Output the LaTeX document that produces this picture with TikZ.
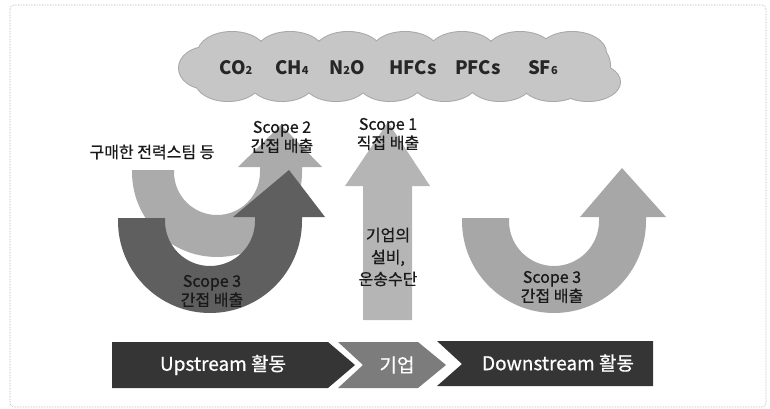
\documentclass[tikz,border=0pt]{standalone}
\usepackage{fontspec}
\setmainfont{Noto Sans CJK KR}
\newfontfamily\medfont[FakeBold=0.7]{Noto Sans CJK KR}
\begin{document}
\begin{tikzpicture}[x=1pt,y=-1pt,
  lbl/.style={font=\medfont\fontsize{16}{19}\selectfont, align=center, inner sep=0pt, text=black!90},
  gas/.style={font=\bfseries\fontsize{18.5}{20}\selectfont, inner sep=0pt, text=black!85},
  bartxt/.style={font=\medfont\fontsize{19}{21}\selectfont, inner sep=0pt, text=white},
  puff/.style={fill=cloudfill},
  puffline/.style={draw=cloudline, line width=2pt}]
\definecolor{cloudfill}{HTML}{C6C6C6}
\definecolor{cloudline}{HTML}{A8A8A8}
\definecolor{lightU}{HTML}{ABABAB}
\definecolor{darkU}{HTML}{5F5F5F}
\definecolor{midA}{HTML}{B5B5B5}
\definecolor{rightU}{HTML}{A7A7A7}
\definecolor{barDark}{HTML}{353535}
\definecolor{barMid}{HTML}{7C7C7C}
\useasboundingbox (0,0) rectangle (770,409);
% frame
\draw[black!35, densely dotted, line width=0.6pt, rounded corners=4pt] (10,5) rectangle (766,407);
% cloud: outline then fill
\foreach \a in {puffline,puff}{
  \path[\a] (207,68) ellipse [x radius=28, y radius=21];
  \foreach \cx in {232,290,348,405,462,520,572} \path[\a] (\cx,53) ellipse [x radius=34, y radius=21];
  \foreach \cx in {228,282,336,390,445,500,553,588} \path[\a] (\cx,82) ellipse [x radius=32, y radius=19];
  \path[\a] (596,66) ellipse [x radius=14, y radius=19];
}
\fill[cloudfill] (212,52) rectangle (596,84);
% gases
\node[gas] (co2) at (236,68) {CO{\fontsize{11}{11}\selectfont 2}};
\node[gas] (ch4) at (292,68) {CH{\fontsize{11}{11}\selectfont 4}};
\node[gas] (n2o) at (347,68) {N{\fontsize{11}{11}\selectfont 2}O};
\node[gas] (hfc) at (413,68) {HFCs};
\node[gas] (pfc) at (478,68) {PFCs};
\node[gas] (sf6) at (543,68) {SF{\fontsize{11}{11}\selectfont 6}};
% light U (scope 2)
\fill[lightU] (132,170) -- (132,172) arc[start angle=180, end angle=0, radius=85]
  -- (302,167) -- (322,167) -- (281,125) -- (238,167) -- (260,167) -- (260,172)
  arc[start angle=0, end angle=180, radius=43] -- (174,170) -- cycle;
% dark U (scope 3 left)
\fill[darkU] (118,218) -- (118,221) arc[start angle=180, end angle=0, radius=92]
  -- (302,217) -- (325,217) -- (289,170) -- (233,217) -- (255,217) -- (255,221)
  arc[start angle=0, end angle=180, radius=45] -- (165,218) -- cycle;
% middle straight arrow (scope 1)
\fill[midA] (363,320) -- (363,186) -- (345,186) -- (388,122) -- (430,186) -- (412,186) -- (412,320) -- cycle;
% right U (scope 3 right)
\fill[rightU] (462,218) -- (462,221) arc[start angle=180, end angle=0, radius=92]
  -- (646,217) -- (666,217) -- (622,168) -- (580,217) -- (599,217) -- (599,221)
  arc[start angle=0, end angle=180, radius=45] -- (509,218) -- cycle;
% labels
\node[lbl] (buy) at (152,152) {구매한 전력스팀 등};
\node[lbl] (s2) at (282,137) {Scope 2\\간접 배출};
\node[lbl] (s1) at (388,134) {Scope 1\\직접 배출};
\node[lbl, font=\medfont\fontsize{16}{22}\selectfont] (fac) at (388,257) {기업의\\설비,\\운송수단};
\node[lbl] (s3l) at (212,291) {Scope 3\\간접 배출};
\node[lbl] (s3r) at (552,287) {Scope 3\\간접 배출};
% bottom bar
\fill[barDark] (112,342) -- (328,342) -- (355,365) -- (328,388) -- (112,388) -- cycle;
\fill[barMid] (338,342) -- (418,342) -- (446,365) -- (418,388) -- (338,388) -- (363,365) -- cycle;
\fill[barDark] (437,341) -- (653,341) -- (653,386) -- (437,386) -- (462,364) -- cycle;
\node[bartxt] (up) at (223,365) {Upstream 활동};
\node[bartxt] (co) at (397,365) {기업};
\node[bartxt] (down) at (558,363) {Downstream 활동};
\end{tikzpicture}
\end{document}
